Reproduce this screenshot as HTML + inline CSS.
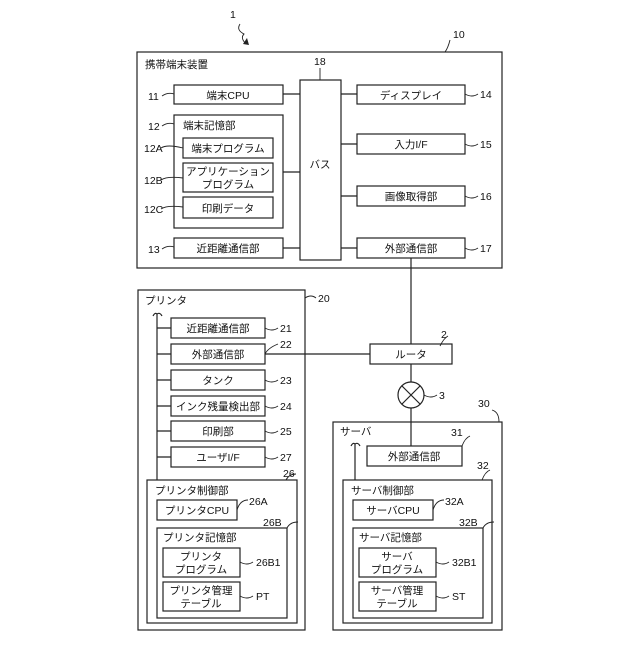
<!DOCTYPE html>
<html><head><meta charset="utf-8"><style>
body{margin:0;background:#fff}
svg text{font-family:"Liberation Sans","Noto Sans CJK JP",sans-serif;font-size:10.5px;fill:#111}
</style></head><body>
<svg width="640" height="640" viewBox="0 0 640 640" xmlns="http://www.w3.org/2000/svg">
<g fill="none" stroke="#222" stroke-width="1.2">
<rect x="137" y="52" width="365" height="216"/>
<rect x="300" y="80" width="41" height="180"/>
<rect x="174" y="85" width="109" height="19"/>
<rect x="174" y="115" width="109" height="113"/>
<rect x="183" y="138" width="90" height="20"/>
<rect x="183" y="163" width="90" height="29"/>
<rect x="183" y="197" width="90" height="21"/>
<rect x="174" y="238" width="109" height="20"/>
<rect x="357" y="85" width="108" height="19"/>
<rect x="357" y="134" width="108" height="20"/>
<rect x="357" y="186" width="108" height="20"/>
<rect x="357" y="238" width="108" height="20"/>
<path d="M283 94H300M283 172H300M283 248H300M341 94H357M341 144H357M341 196H357M341 248H357"/>
<path d="M411 258V344M411 364V382M411 408V446M265 354H370"/>
<rect x="370" y="344" width="82" height="20"/>
<circle cx="411" cy="395" r="13"/>
<path d="M402 386L420 404M420 386L402 404"/>
<rect x="138" y="290" width="167" height="340"/>
<path d="M157 314V480M157 328H171M157 354H171M157 380H171M157 406H171M157 431H171M157 457H171M153 316Q155 312 157 314M157 314Q160 312 162 316"/>
<rect x="171" y="318" width="94" height="20"/>
<rect x="171" y="344" width="94" height="20"/>
<rect x="171" y="370" width="94" height="20"/>
<rect x="171" y="396" width="94" height="20"/>
<rect x="171" y="421" width="94" height="20"/>
<rect x="171" y="447" width="94" height="20"/>
<rect x="147" y="480" width="150" height="143"/>
<rect x="157" y="500" width="80" height="20"/>
<rect x="157" y="528" width="130" height="90"/>
<rect x="163" y="548" width="77" height="29"/>
<rect x="163" y="582" width="77" height="29"/>
<rect x="333" y="422" width="169" height="208"/>
<path d="M355 444V480M351 446Q353 442 355 444M355 444Q358 442 360 446"/>
<rect x="367" y="446" width="95" height="20"/>
<rect x="343" y="480" width="149" height="143"/>
<rect x="353" y="500" width="80" height="20"/>
<rect x="353" y="528" width="130" height="90"/>
<rect x="359" y="548" width="77" height="29"/>
<rect x="359" y="582" width="77" height="29"/>
<path stroke-width="0.9" d="M162 96Q168 92 174 94M162 126Q168 122 174 124M161 148Q167 144 183 148M161 180Q167 176 183 178M161 209Q167 205 183 207M162 249Q168 245 174 247M465 94Q472 98 478 94M465 144Q472 148 478 144M465 196Q472 200 478 196M465 248Q472 252 478 248M320 68V80M450 40Q448 48 445 52M240 24Q236 30 244 34Q240 38 246 44"/>
<path stroke-width="0.9" d="M265 328Q272 332 278 328M265 354Q268 348 278 344M265 380Q272 384 278 380M265 406Q272 410 278 406M265 431Q272 435 278 431M265 457Q272 461 278 457M305 298Q311 294 316 298M286 480Q289 474 296 474M237 510Q240 500 248 500M287 528Q290 522 298 522M240 562Q247 566 253 562M240 596Q247 600 253 596M440 346Q444 338 448 336M424 395Q431 399 437 395M462 446Q465 438 470 436M482 480Q485 472 490 470M433 510Q436 500 444 500M483 528Q486 522 494 522M436 562Q443 566 449 562M436 596Q443 600 449 596M492 410Q499 412 499 422"/>
<path fill="#222" stroke="none" d="M243 44L247 38L249 45Z"/>
</g>
<text x="230" y="18">1</text>
<text x="453" y="38">10</text>
<text x="314" y="65">18</text>
<text x="145" y="68">携帯端末装置</text>
<text x="148" y="100">11</text>
<text x="148" y="130">12</text>
<text x="144" y="152">12A</text>
<text x="144" y="184">12B</text>
<text x="144" y="213">12C</text>
<text x="148" y="253">13</text>
<text x="480" y="98">14</text>
<text x="480" y="148">15</text>
<text x="480" y="200">16</text>
<text x="480" y="252">17</text>
<g text-anchor="middle">
<text x="228" y="99">端末CPU</text>
<text x="228" y="152">端末プログラム</text>
<text x="228" y="175">アプリケーション</text>
<text x="228" y="188">プログラム</text>
<text x="228" y="212">印刷データ</text>
<text x="228" y="252">近距離通信部</text>
<text x="320" y="168">バス</text>
<text x="411" y="99">ディスプレイ</text>
<text x="411" y="148">入力I/F</text>
<text x="411" y="200">画像取得部</text>
<text x="411" y="252">外部通信部</text>
<text x="411" y="358">ルータ</text>
<text x="218" y="332">近距離通信部</text>
<text x="218" y="358">外部通信部</text>
<text x="218" y="384">タンク</text>
<text x="218" y="410">インク残量検出部</text>
<text x="218" y="435">印刷部</text>
<text x="218" y="461">ユーザI/F</text>
<text x="197" y="514">プリンタCPU</text>
<text x="201" y="560">プリンタ</text>
<text x="201" y="573">プログラム</text>
<text x="201" y="594">プリンタ管理</text>
<text x="201" y="607">テーブル</text>
<text x="414" y="460">外部通信部</text>
<text x="393" y="514">サーバCPU</text>
<text x="397" y="560">サーバ</text>
<text x="397" y="573">プログラム</text>
<text x="397" y="594">サーバ管理</text>
<text x="397" y="607">テーブル</text>
</g>
<text x="183" y="129">端末記憶部</text>
<text x="145" y="304">プリンタ</text>
<text x="318" y="302">20</text>
<text x="280" y="332">21</text>
<text x="280" y="348">22</text>
<text x="280" y="384">23</text>
<text x="280" y="410">24</text>
<text x="280" y="435">25</text>
<text x="280" y="461">27</text>
<text x="283" y="477">26</text>
<text x="155" y="494">プリンタ制御部</text>
<text x="249" y="505">26A</text>
<text x="263" y="526">26B</text>
<text x="163" y="541">プリンタ記憶部</text>
<text x="256" y="566">26B1</text>
<text x="256" y="600">PT</text>
<text x="441" y="338">2</text>
<text x="439" y="399">3</text>
<text x="478" y="407">30</text>
<text x="340" y="435">サーバ</text>
<text x="451" y="436">31</text>
<text x="477" y="469">32</text>
<text x="351" y="494">サーバ制御部</text>
<text x="445" y="505">32A</text>
<text x="459" y="526">32B</text>
<text x="359" y="541">サーバ記憶部</text>
<text x="452" y="566">32B1</text>
<text x="452" y="600">ST</text>
</svg>
</body></html>
